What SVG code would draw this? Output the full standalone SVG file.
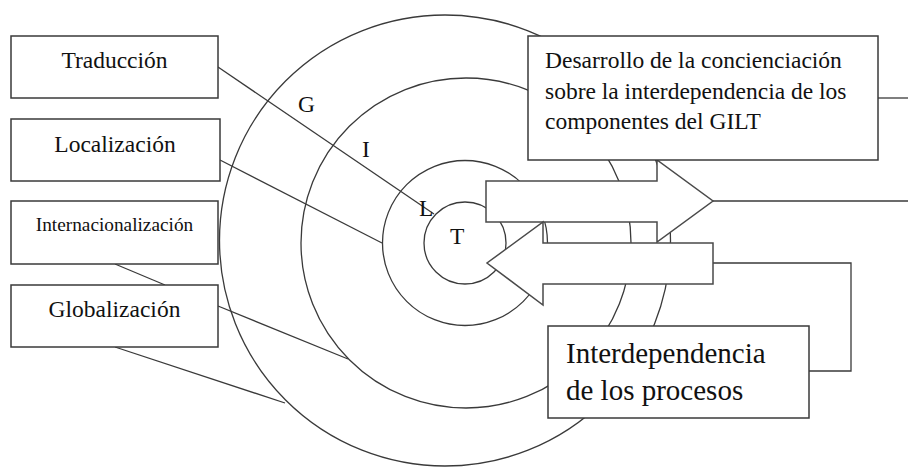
<svg xmlns="http://www.w3.org/2000/svg" width="908" height="468" viewBox="0 0 908 468">
  <style>
    .ring { fill: none; stroke: #3a3a3a; stroke-width: 1.3; }
    .link { fill: none; stroke: #3a3a3a; stroke-width: 1.3; }
    .box { fill: #ffffff; stroke: #3a3a3a; stroke-width: 1.5; }
    .arrow { fill: #ffffff; stroke: #4a4a4a; stroke-width: 1.5; stroke-linejoin: miter; }
    text { font-family: "Liberation Serif", "Times New Roman", serif; fill: #111111; }
    .lbl { font-size: 23.5px; }
    .small { font-size: 19.3px; }
    .big { font-size: 29px; }
  </style>
  <rect width="908" height="468" fill="#ffffff"/>

  <!-- GILT rings -->
  <g id="rings">
    <circle class="ring" cx="445" cy="240.5" r="225.5"/>
    <circle class="ring" cx="466" cy="243" r="165"/>
    <circle class="ring" cx="465" cy="243" r="82.5"/>
    <circle class="ring" cx="465" cy="243" r="41"/>
  </g>

  <!-- connectors -->
  <g id="connectors">
    <line class="link" x1="218" y1="67" x2="434" y2="214"/>
    <line class="link" x1="220" y1="160" x2="382" y2="243"/>
    <line class="link" x1="115" y1="264" x2="165" y2="285"/>
    <line class="link" x1="218" y1="306" x2="348" y2="359"/>
    <line class="link" x1="115" y1="347" x2="285" y2="403"/>
    <line class="link" x1="878" y1="98" x2="908" y2="98"/>
    <line class="link" x1="713" y1="201" x2="908" y2="201"/>
    <polyline class="link" points="713,263 851,263 851,371 809,371"/>
  </g>

  <!-- ring letters -->
  <g id="ring-labels">
    <text class="lbl" x="298" y="112">G</text>
    <text class="lbl" x="362" y="157">I</text>
    <text class="lbl" x="419" y="216">L</text>
    <text class="lbl" x="450" y="244">T</text>
  </g>

  <!-- block arrows -->
  <g id="arrow-out">
    <polygon class="arrow" points="486,181 657,181 657,160 713,201 657,242 657,222 486,222"/>
  </g>
  <g id="arrow-in">
    <polygon class="arrow" points="713,243 543,243 543,222 487,263 543,305 543,284 713,284"/>
  </g>

  <!-- left boxes -->
  <g id="traduccion">
    <rect class="box" x="11" y="36" width="207" height="62"/>
    <text class="lbl" x="114.5" y="68" text-anchor="middle">Traducción</text>
  </g>
  <g id="localizacion">
    <rect class="box" x="11" y="119" width="209" height="62"/>
    <text class="lbl" x="115" y="152" text-anchor="middle">Localización</text>
  </g>
  <g id="internacionalizacion">
    <rect class="box" x="11" y="201" width="207" height="63"/>
    <text class="small" x="114.5" y="231" text-anchor="middle">Internacionalización</text>
  </g>
  <g id="globalizacion">
    <rect class="box" x="11" y="285" width="207" height="62"/>
    <text class="lbl" x="114.5" y="317" text-anchor="middle">Globalización</text>
  </g>

  <!-- right boxes -->
  <g id="concienciacion">
    <rect class="box" x="528" y="36" width="350" height="124"/>
    <text class="lbl" x="545" y="68">Desarrollo de la concienciación</text>
    <text class="lbl" x="545" y="99">sobre la interdependencia de los</text>
    <text class="lbl" x="545" y="129">componentes del GILT</text>
  </g>
  <g id="interdependencia">
    <rect class="box" x="548" y="326" width="261" height="92"/>
    <text class="big" x="566" y="363">Interdependencia</text>
    <text class="big" x="566" y="400">de los procesos</text>
  </g>
</svg>
